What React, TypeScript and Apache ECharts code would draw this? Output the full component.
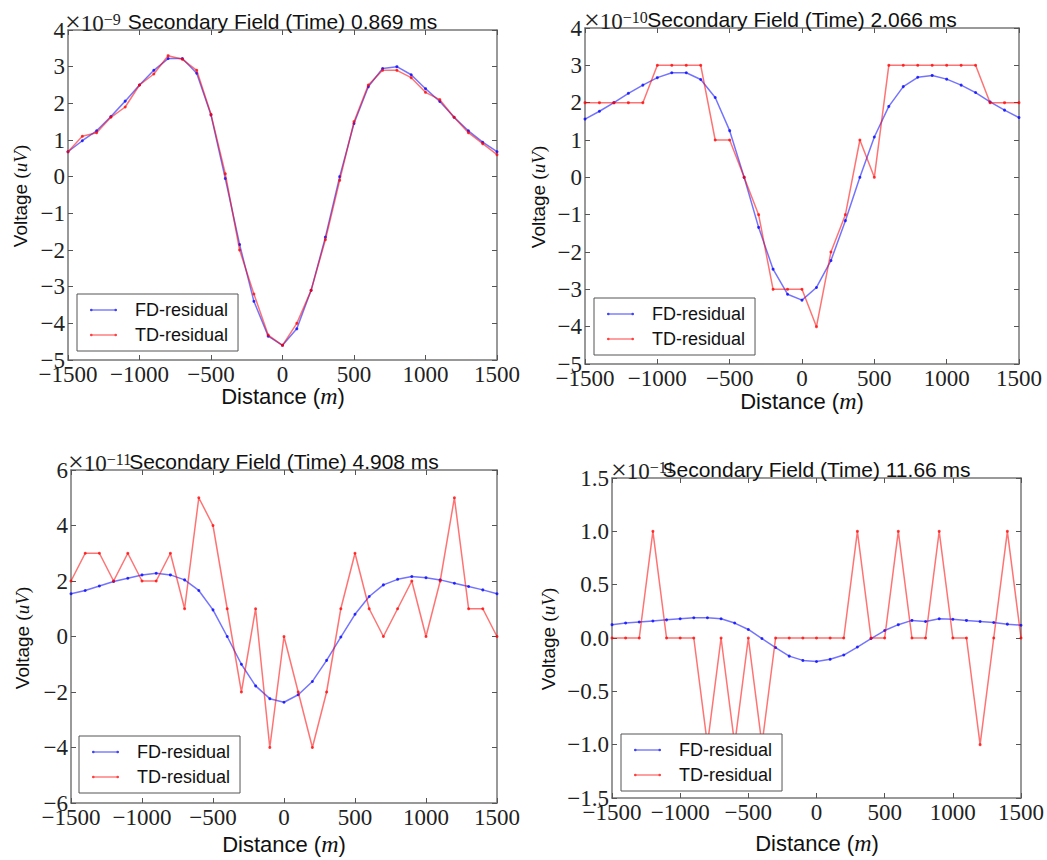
import React, { useEffect, useRef } from "react";
import * as echarts from "echarts";

// ---- data ----
const distance = [
  -1500, -1400, -1300, -1200, -1100, -1000, -900, -800, -700, -600, -500, -400, -300, -200, -100,
  0, 100, 200, 300, 400, 500, 600, 700, 800, 900, 1000, 1100, 1200, 1300, 1400, 1500,
];
const xTicks = [-1500, -1000, -500, 0, 500, 1000, 1500];

const fd1 = [0.68, 0.98, 1.25, 1.64, 2.06, 2.5, 2.9, 3.22, 3.22, 2.82, 1.68, -0.05, -1.85, -3.4, -4.35,
  -4.6, -4.15, -3.1, -1.65, 0.0, 1.45, 2.45, 2.95, 3.0, 2.78, 2.4, 2.05, 1.62, 1.25, 0.94, 0.68];
const td1 = [0.68, 1.1, 1.2, 1.62, 1.9, 2.5, 2.8, 3.3, 3.2, 2.9, 1.7, 0.08, -2.0, -3.2, -4.32,
  -4.6, -4.0, -3.1, -1.72, -0.1, 1.5, 2.5, 2.9, 2.9, 2.7, 2.3, 2.1, 1.62, 1.2, 0.9, 0.6];

const fd2 = [1.56, 1.77, 2.0, 2.25, 2.47, 2.67, 2.8, 2.8, 2.62, 2.14, 1.25, 0.0, -1.34, -2.46, -3.13,
  -3.29, -2.95, -2.23, -1.16, 0.0, 1.08, 1.9, 2.43, 2.68, 2.73, 2.63, 2.47, 2.27, 2.02, 1.8, 1.6];
const td2 = [2, 2, 2, 2, 2, 3, 3, 3, 3, 1, 1, 0, -1, -3, -3,
  -3, -4, -2, -1, 1, 0, 3, 3, 3, 3, 3, 3, 3, 2, 2, 2];

const fd3 = [1.54, 1.66, 1.82, 1.98, 2.1, 2.22, 2.28, 2.22, 2.04, 1.66, 0.96, 0.0, -1.0, -1.78, -2.24,
  -2.37, -2.1, -1.62, -0.86, -0.02, 0.8, 1.44, 1.86, 2.06, 2.16, 2.12, 2.04, 1.92, 1.8, 1.68, 1.54];
const td3 = [2, 3, 3, 2, 3, 2, 2, 3, 1, 5, 4, 1, -2, 1, -4,
  0, -2, -4, -2, 1, 3, 1, 0, 1, 2, 0, 2, 5, 1, 1, 0];

const fd4 = [0.125, 0.14, 0.15, 0.16, 0.17, 0.18, 0.19, 0.19, 0.18, 0.14, 0.08, -0.005, -0.09, -0.17, -0.21,
  -0.22, -0.2, -0.16, -0.085, -0.005, 0.07, 0.125, 0.165, 0.155, 0.18, 0.175, 0.165, 0.155, 0.145, 0.13, 0.12];
const td4 = [0, 0, 0, 1, 0, 0, 0, -1, 0, -1, 0, -1, 0, 0, 0,
  0, 0, 0, 1, 0, 0, 1, 0, 0, 1, 0, 0, -1, 0, 1, 0];

const titles = [
  "Secondary Field (Time) 0.869 ms",
  "Secondary Field (Time) 2.066 ms",
  "Secondary Field (Time) 4.908 ms",
  "Secondary Field (Time) 11.66 ms",
];
const exponents = ["−9", "−10", "−11", "−11"];
const seriesNames = ["FD-residual", "TD-residual"];

// ---- layout / style ----
const SERIF = '"Liberation Serif", "DejaVu Serif", serif';
const SANS = '"Liberation Sans", Arial, sans-serif';

const layout = [
  { grid: { left: 68, top: 30, width: 429, height: 330 }, y: [-5, 4, 1], dec: 0, legend: { left: 77, top: 294 },
    xName: [283, 396], yName: [20, 196], offX: 65, fd: fd1, td: td1 },
  { grid: { left: 585, top: 28, width: 434, height: 336 }, y: [-5, 4, 1], dec: 0, legend: { left: 594, top: 298 },
    xName: [802, 401], yName: [538, 197], offX: 584, fd: fd2, td: td2 },
  { grid: { left: 71, top: 470, width: 426, height: 333 }, y: [-6, 6, 2], dec: 0, legend: { left: 79, top: 736 },
    xName: [284, 844], yName: [22, 638], offX: 68, fd: fd3, td: td3 },
  { grid: { left: 612, top: 478, width: 409, height: 320 }, y: [-1.5, 1.5, 0.5], dec: 1, legend: { left: 621, top: 734 },
    xName: [817, 843], yName: [548, 639], offX: 611, fd: fd4, td: td4 },
];

const fmt = (v: number, dec: number) => (v < 0 ? "−" : "") + Math.abs(v).toFixed(dec);

const FRAME = "#777";
const LEGEND_ICON =
  "path://M0,0.9H30V2.1H0Z M0,1.5a1.5,1.5 0 1,1 3,0a1.5,1.5 0 1,1 -3,0Z M27,1.5a1.5,1.5 0 1,1 3,0a1.5,1.5 0 1,1 -3,0Z";

function buildOption() {
  const grid: any[] = [];
  const xAxis: any[] = [];
  const yAxis: any[] = [];
  const series: any[] = [];
  const legend: any[] = [];
  const graphic: any[] = [];

  layout.forEach((p, i) => {
    grid.push({ ...p.grid, containLabel: false });
    const axisLine = { show: true, onZero: false, lineStyle: { color: FRAME, width: 1.5 } };
    const axisTick = { show: true, inside: true, length: 5, lineStyle: { color: "#555", width: 1 } };
    const labelStyle = { fontFamily: SERIF, fontSize: 23, color: "#222" };
    xAxis.push({
      gridIndex: i, type: "value", min: xTicks[0], max: xTicks[xTicks.length - 1], interval: 500,
      position: "bottom", axisLine, axisTick, splitLine: { show: false },
      axisLabel: { ...labelStyle, margin: 3, formatter: (v: number) => fmt(v, 0) },
    });
    xAxis.push({
      gridIndex: i, type: "value", min: xTicks[0], max: xTicks[xTicks.length - 1], interval: 500,
      position: "top", axisLine, axisTick, splitLine: { show: false }, axisLabel: { show: false },
    });
    yAxis.push({
      gridIndex: i, type: "value", min: p.y[0], max: p.y[1], interval: p.y[2],
      position: "left", axisLine, axisTick, splitLine: { show: false },
      axisLabel: { ...labelStyle, margin: 3, formatter: (v: number) => fmt(v, p.dec) },
    });
    yAxis.push({
      gridIndex: i, type: "value", min: p.y[0], max: p.y[1], interval: p.y[2],
      position: "right", axisLine, axisTick, splitLine: { show: false }, axisLabel: { show: false },
    });

    series.push({
      type: "line", name: seriesNames[0], xAxisIndex: i * 2, yAxisIndex: i * 2,
      data: distance.map((d, k) => [d, p.fd[k]]),
      symbol: "circle", symbolSize: 3, showSymbol: true,
      lineStyle: { color: "rgba(0,0,255,0.55)", width: 1.5 },
      itemStyle: { color: "rgba(0,0,255,0.75)" }, z: 2,
    });
    series.push({
      type: "line", name: seriesNames[1], xAxisIndex: i * 2, yAxisIndex: i * 2,
      data: distance.map((d, k) => [d, p.td[k]]),
      symbol: "circle", symbolSize: 3, showSymbol: true,
      lineStyle: { color: "rgba(255,0,0,0.55)", width: 1.5 },
      itemStyle: { color: "rgba(255,0,0,0.75)" }, z: 3,
    });

    legend.push({
      left: p.legend.left, top: p.legend.top, orient: "vertical",
      data: seriesNames.map((n) => ({ name: n, icon: LEGEND_ICON })),
      itemWidth: 27, itemHeight: 4, itemGap: 7,
      padding: [7, 10, 7, 13], backgroundColor: "#fff", borderColor: "#555", borderWidth: 1, borderRadius: 0,
      textStyle: { fontFamily: SANS, fontSize: 18, color: "#111", padding: [0, 0, 0, 13], lineHeight: 18 },
      selectedMode: false, z: 10,
    });

    const cx = p.grid.left + p.grid.width / 2;
    // title
    graphic.push({
      type: "text", x: cx, y: p.grid.top + 2, z: 20,
      style: { text: titles[i], fontFamily: SANS, fontSize: 21, fill: "#111",
        textAlign: "center", align: "center", textVerticalAlign: "bottom", verticalAlign: "bottom" },
    });
    // offset (scale) text
    graphic.push({
      type: "text", x: p.offX, y: p.grid.top - 7, z: 19,
      style: {
        text: "{x|×}{a|10}{s|" + exponents[i] + "}",
        textAlign: "left", align: "left", textVerticalAlign: "middle", verticalAlign: "middle",
        rich: {
          x: { fontFamily: SERIF, fontSize: 28, fill: "#222", lineHeight: 24, verticalAlign: "bottom" },
          a: { fontFamily: SERIF, fontSize: 23, fill: "#222", lineHeight: 24, verticalAlign: "bottom" },
          s: { fontFamily: SERIF, fontSize: 16, fill: "#222", lineHeight: 16, verticalAlign: "top" },
        },
      },
    });
    // x axis name
    graphic.push({
      type: "text", x: p.xName[0], y: p.xName[1], z: 20,
      style: {
        text: "{a|Distance (}{m|m}{a|)}",
        textAlign: "center", align: "center", textVerticalAlign: "middle", verticalAlign: "middle",
        rich: {
          a: { fontFamily: SANS, fontSize: 22, fill: "#111" },
          m: { fontFamily: SERIF, fontStyle: "italic", fontSize: 24, fill: "#111" },
        },
      },
    });
    // y axis name
    graphic.push({
      type: "text", x: p.yName[0], y: p.yName[1], rotation: Math.PI / 2, z: 20,
      style: {
        text: "{a|Voltage }{b|(}{m|uV}{b|)}",
        textAlign: "center", align: "center", textVerticalAlign: "middle", verticalAlign: "middle",
        rich: {
          a: { fontFamily: SANS, fontSize: 19, fill: "#111" },
          b: { fontFamily: SERIF, fontSize: 19, fill: "#111" },
          m: { fontFamily: SERIF, fontStyle: "italic", fontSize: 19, fill: "#111" },
        },
      },
    });
  });

  return {
    animation: false,
    backgroundColor: "#fff",
    grid, xAxis, yAxis, series, legend, graphic,
  };
}

export default function App() {
  const ref = useRef<HTMLDivElement>(null);
  useEffect(() => {
    if (!ref.current) return;
    const chart = echarts.init(ref.current, undefined, { renderer: "svg" });
    chart.setOption(buildOption() as any);
    return () => chart.dispose();
  }, []);
  return (
    <div
      ref={ref}
      style={{ position: "fixed", left: 0, top: 0, width: 1047, height: 860, background: "#fff" }}
    />
  );
}
